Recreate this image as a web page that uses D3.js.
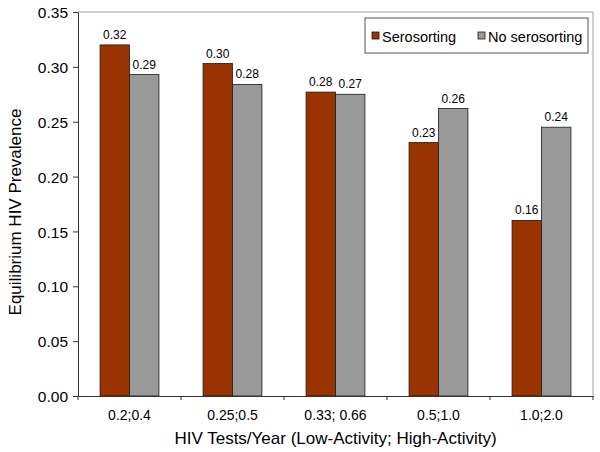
<!DOCTYPE html>
<html>
<head>
<meta charset="utf-8">
<script src="https://cdn.jsdelivr.net/npm/d3@7"></script>
<style>
  body { margin: 0; background: #fff; }
  svg { font-family: 'Liberation Sans', Arial, sans-serif; }
</style>
</head>
<body>
<svg class="chart" width="600" height="452"></svg>
<script>
  'use strict'

  const categories = ['0.2;0.4', '0.25;0.5', '0.33; 0.66', '0.5;1.0', '1.0;2.0'];
  const seriesNames = ['Serosorting', 'No serosorting'];
  const serosorting = [0.320, 0.303, 0.277, 0.231, 0.160];
  const noSerosorting = [0.293, 0.284, 0.275, 0.262, 0.245];
  const labelsSero = ['0.32', '0.30', '0.28', '0.23', '0.16'];
  const labelsNoSero = ['0.29', '0.28', '0.27', '0.26', '0.24'];
  const yTicks = [0, 0.05, 0.10, 0.15, 0.20, 0.25, 0.30, 0.35];
  const colors = ['#993300', '#999999'];

  const svg = d3.select('svg.chart'),
    margin = { top: 12, right: 7, bottom: 56, left: 78 },
    width = +svg.attr('width') - margin.left - margin.right,
    height = +svg.attr('height') - margin.top - margin.bottom;

  const g = svg.append('g')
    .attr('transform', 'translate(' + margin.left + ',' + margin.top + ')');

  const x = d3.scaleBand().domain(categories).range([0, width]).paddingInner(0).paddingOuter(0);
  const x1 = d3.scaleBand().domain(seriesNames).range([0, x.bandwidth()]).paddingOuter(0.75).paddingInner(0);
  const y = d3.scaleLinear().domain([0, 0.35]).range([height, 0]);

  // plot frame (top and right)
  g.append('path')
    .attr('d', 'M0,0H' + width + 'V' + height)
    .attr('fill', 'none')
    .attr('stroke', '#a0a0a0')
    .attr('stroke-width', 1);

  const rows = categories.map((c, i) => ({
    cat: c,
    vals: [
      { name: seriesNames[0], value: serosorting[i], label: labelsSero[i], color: colors[0] },
      { name: seriesNames[1], value: noSerosorting[i], label: labelsNoSero[i], color: colors[1] }
    ]
  }));

  const groups = g.selectAll('.grp')
    .data(rows)
    .enter().append('g')
    .attr('class', 'grp')
    .attr('transform', (d) => 'translate(' + x(d.cat) + ',0)');

  groups.selectAll('rect')
    .data((d) => d.vals)
    .enter().append('rect')
    .attr('x', (d) => x1(d.name))
    .attr('y', (d) => y(d.value))
    .attr('width', x1.bandwidth())
    .attr('height', (d) => height - y(d.value))
    .attr('fill', (d) => d.color)
    .attr('stroke', '#1a1a1a')
    .attr('stroke-width', 0.8);

  groups.selectAll('text.val')
    .data((d) => d.vals)
    .enter().append('text')
    .attr('class', 'val')
    .attr('x', (d) => x1(d.name) + x1.bandwidth() / 2)
    .attr('y', (d) => y(d.value) - 6)
    .attr('text-anchor', 'middle')
    .attr('font-size', '12px')
    .attr('fill', '#000')
    .text((d) => d.label);

  // y axis
  const yAxis = g.append('g')
    .call(d3.axisLeft(y).tickValues(yTicks).tickFormat(d3.format('.2f')).tickSize(5).tickSizeOuter(0));
  yAxis.select('.domain').attr('stroke', '#333');
  yAxis.selectAll('.tick line').attr('stroke', '#333');
  yAxis.selectAll('text')
    .attr('font-size', '15.5px')
    .attr('font-family', 'Liberation Sans, Arial, sans-serif')
    .attr('fill', '#000')
    .attr('x', -10)
    .attr('dy', '0.36em');

  // x axis
  const xAxis = g.append('g')
    .attr('transform', 'translate(0,' + height + ')')
    .call(d3.axisBottom(x).tickSize(0).tickPadding(10));
  xAxis.select('.domain').attr('stroke', '#333');
  xAxis.selectAll('text')
    .attr('font-size', '14px')
    .attr('font-family', 'Liberation Sans, Arial, sans-serif')
    .attr('fill', '#000')
    .attr('dy', '0.97em');
  // category boundary ticks
  const bounds = categories.map((c) => x(c)).concat([width]);
  xAxis.selectAll('.bound')
    .data(bounds)
    .enter().append('line')
    .attr('class', 'bound')
    .attr('x1', (d) => d).attr('x2', (d) => d)
    .attr('y1', 0).attr('y2', 4)
    .attr('stroke', '#333');

  // axis titles
  svg.append('text')
    .attr('text-anchor', 'middle')
    .attr('transform', 'translate(' + (margin.left + width / 2) + ',444)')
    .attr('font-size', '17px')
    .text('HIV Tests/Year (Low-Activity; High-Activity)');

  svg.append('text')
    .attr('text-anchor', 'middle')
    .attr('transform', 'translate(21,212)rotate(-90)')
    .attr('font-size', '17px')
    .text('Equilibrium HIV Prevalence');

  // legend
  const legend = svg.append('g').attr('transform', 'translate(365,18)');
  legend.append('rect')
    .attr('width', 223).attr('height', 35)
    .attr('fill', '#fff')
    .attr('stroke', '#555')
    .attr('stroke-width', 1);
  const legX = [7, 113];
  const items = legend.selectAll('.item')
    .data(seriesNames)
    .enter().append('g')
    .attr('class', 'item')
    .attr('transform', (d, i) => 'translate(' + legX[i] + ',14)');
  items.append('rect')
    .attr('width', 7).attr('height', 7)
    .attr('fill', (d, i) => colors[i])
    .attr('stroke', '#1a1a1a')
    .attr('stroke-width', 0.8);
  items.append('text')
    .attr('x', 10).attr('y', 10)
    .attr('font-size', '14.5px')
    .text((d) => d);
</script>
</body>
</html>
